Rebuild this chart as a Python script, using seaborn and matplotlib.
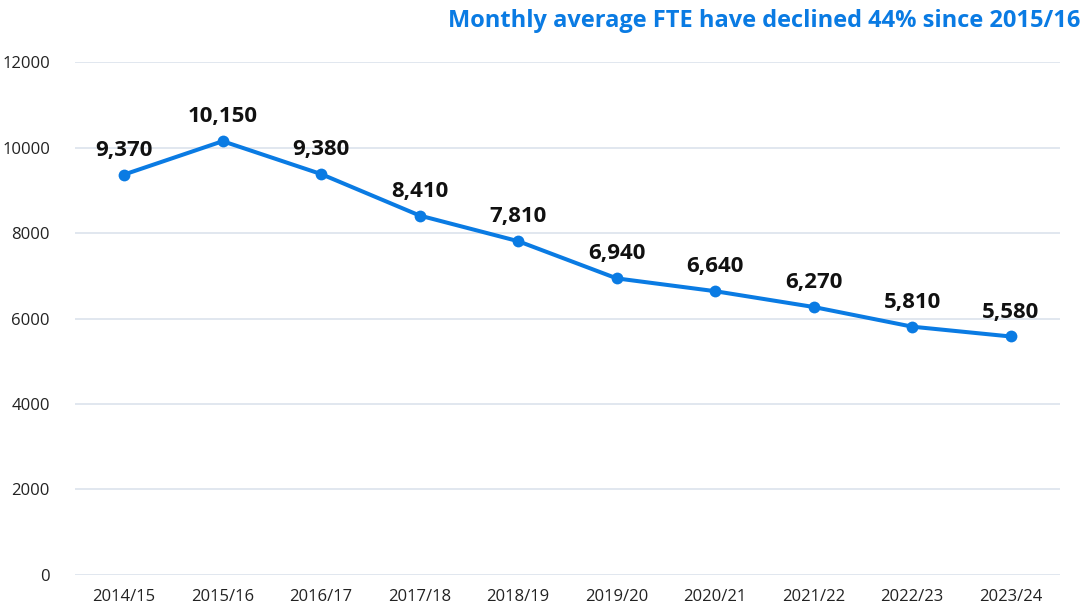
import matplotlib
matplotlib.use("Agg")
import matplotlib.pyplot as plt
import seaborn as sns
import pandas as pd

years = ["2014/15", "2015/16", "2016/17", "2017/18", "2018/19",
         "2019/20", "2020/21", "2021/22", "2022/23", "2023/24"]
fte = [9370, 10150, 9380, 8410, 7810, 6940, 6640, 6270, 5810, 5580]
yticks = [0, 2000, 4000, 6000, 8000, 10000, 12000]
title = "Monthly average FTE have declined 44% since 2015/16"

sns.set_theme(style="white")
plt.rcParams['font.family'] = ['Open Sans', 'DejaVu Sans']

blue = "#0A7BE3"
df = pd.DataFrame({"year": years, "fte": fte})
df["x"] = range(len(years))

fig = plt.figure(figsize=(10.86, 6.12), dpi=100)
ax = fig.add_axes([0.069, 0.0605, 0.907, 0.838])
sns.lineplot(data=df, x="x", y="fte", ax=ax, color=blue, linewidth=2.9,
             marker="o", markersize=8.5, markeredgewidth=0, zorder=3)
for xi, v in zip(df["x"], fte):
    ax.annotate(f"{v:,}", (xi, v), xytext=(0, 10), textcoords="offset points",
                ha="center", va="bottom", fontsize=16, fontweight="bold",
                color="#111111", zorder=4)

ax.set_xlim(-0.5, len(years) - 0.5)
ax.set_ylim(0, 12000)
ax.set_yticks(yticks)
ax.set_yticklabels([str(t) for t in yticks])
ax.set_xticks(range(len(years)))
ax.set_xticklabels(years)
ax.yaxis.grid(True, color="#DCE3EC", linewidth=1.2)
ax.xaxis.grid(False)
for s in ax.spines.values():
    s.set_visible(False)
ax.tick_params(axis="both", length=0, labelsize=12, labelcolor="#222222")
ax.tick_params(axis="y", pad=18)
ax.tick_params(axis="x", pad=10)
ax.set_xlabel("")
ax.set_ylabel("")
fig.text(0.995, 0.985, title, ha="right", va="top", fontsize=17,
         fontweight="bold", color=blue)
fig.savefig("out.png", dpi=100)
